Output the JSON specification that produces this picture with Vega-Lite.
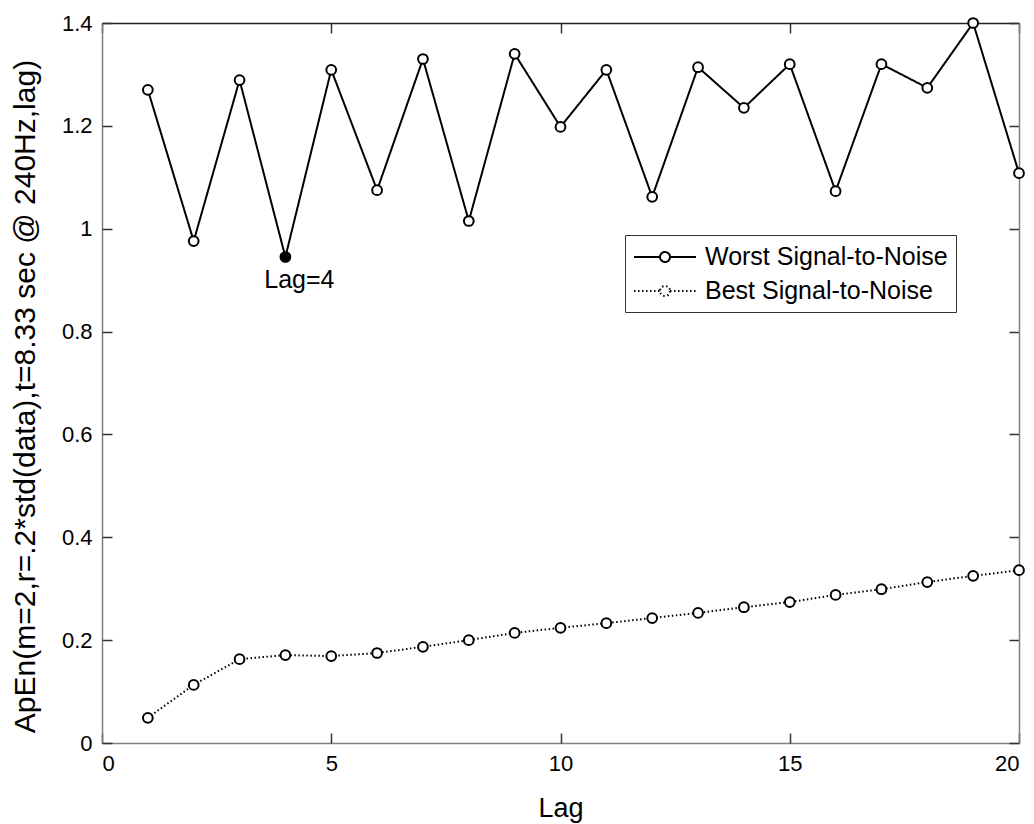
{
  "$schema": "https://vega.github.io/schema/vega-lite/v6.json",
  "width": 917,
  "height": 720,
  "autosize": "none",
  "padding": {"left": 102, "top": 23, "right": 15, "bottom": 81},
  "background": "white",
  "config": {
    "view": {"stroke": null},
    "font": "Liberation Sans",
    "axis": {
      "grid": false,
      "domainColor": "#7f7f7f",
      "domainWidth": 1.5,
      "labelFont": "Liberation Sans",
      "labelFontSize": 22,
      "labelColor": "black",
      "titleFont": "Liberation Sans",
      "titleFontWeight": "normal",
      "titleColor": "black"
    }
  },
  "datasets": {
    "series": [
      {"lag": 1, "value": 1.270, "series": "Worst Signal-to-Noise"},
      {"lag": 2, "value": 0.976, "series": "Worst Signal-to-Noise"},
      {"lag": 3, "value": 1.289, "series": "Worst Signal-to-Noise"},
      {"lag": 4, "value": 0.945, "series": "Worst Signal-to-Noise"},
      {"lag": 5, "value": 1.309, "series": "Worst Signal-to-Noise"},
      {"lag": 6, "value": 1.075, "series": "Worst Signal-to-Noise"},
      {"lag": 7, "value": 1.330, "series": "Worst Signal-to-Noise"},
      {"lag": 8, "value": 1.015, "series": "Worst Signal-to-Noise"},
      {"lag": 9, "value": 1.340, "series": "Worst Signal-to-Noise"},
      {"lag": 10, "value": 1.198, "series": "Worst Signal-to-Noise"},
      {"lag": 11, "value": 1.309, "series": "Worst Signal-to-Noise"},
      {"lag": 12, "value": 1.062, "series": "Worst Signal-to-Noise"},
      {"lag": 13, "value": 1.314, "series": "Worst Signal-to-Noise"},
      {"lag": 14, "value": 1.235, "series": "Worst Signal-to-Noise"},
      {"lag": 15, "value": 1.320, "series": "Worst Signal-to-Noise"},
      {"lag": 16, "value": 1.073, "series": "Worst Signal-to-Noise"},
      {"lag": 17, "value": 1.320, "series": "Worst Signal-to-Noise"},
      {"lag": 18, "value": 1.274, "series": "Worst Signal-to-Noise"},
      {"lag": 19, "value": 1.400, "series": "Worst Signal-to-Noise"},
      {"lag": 20, "value": 1.108, "series": "Worst Signal-to-Noise"},
      {"lag": 1, "value": 0.049, "series": "Best Signal-to-Noise"},
      {"lag": 2, "value": 0.113, "series": "Best Signal-to-Noise"},
      {"lag": 3, "value": 0.163, "series": "Best Signal-to-Noise"},
      {"lag": 4, "value": 0.171, "series": "Best Signal-to-Noise"},
      {"lag": 5, "value": 0.169, "series": "Best Signal-to-Noise"},
      {"lag": 6, "value": 0.175, "series": "Best Signal-to-Noise"},
      {"lag": 7, "value": 0.187, "series": "Best Signal-to-Noise"},
      {"lag": 8, "value": 0.200, "series": "Best Signal-to-Noise"},
      {"lag": 9, "value": 0.214, "series": "Best Signal-to-Noise"},
      {"lag": 10, "value": 0.224, "series": "Best Signal-to-Noise"},
      {"lag": 11, "value": 0.233, "series": "Best Signal-to-Noise"},
      {"lag": 12, "value": 0.243, "series": "Best Signal-to-Noise"},
      {"lag": 13, "value": 0.253, "series": "Best Signal-to-Noise"},
      {"lag": 14, "value": 0.264, "series": "Best Signal-to-Noise"},
      {"lag": 15, "value": 0.274, "series": "Best Signal-to-Noise"},
      {"lag": 16, "value": 0.288, "series": "Best Signal-to-Noise"},
      {"lag": 17, "value": 0.299, "series": "Best Signal-to-Noise"},
      {"lag": 18, "value": 0.313, "series": "Best Signal-to-Noise"},
      {"lag": 19, "value": 0.325, "series": "Best Signal-to-Noise"},
      {"lag": 20, "value": 0.336, "series": "Best Signal-to-Noise"}
    ],
    "highlight": [
      {"lag": 4, "value": 0.945, "label": "Lag=4"}
    ]
  },
  "resolve": {"axis": {"x": "independent", "y": "independent"}},
  "layer": [
    {
      "data": {"name": "series"},
      "mark": {"type": "line", "color": "black", "strokeWidth": 2},
      "encoding": {
        "x": {"field": "lag", "type": "quantitative",
              "scale": {"domain": [0, 20], "nice": false, "zero": false},
              "axis": {"orient": "bottom", "values": [0, 5, 10, 15, 20], "ticks": false, "tickSize": 0, "title": "Lag", "titleFontSize": 27, "labelPadding": 10, "titlePadding": 21}},
        "y": {"field": "value", "type": "quantitative",
              "scale": {"domain": [0, 1.4], "nice": false, "zero": false},
              "axis": {"orient": "left", "values": [0, 0.2, 0.4, 0.6, 0.8, 1, 1.2, 1.4], "format": "~g", "ticks": false, "tickSize": 0, "title": "ApEn(m=2,r=.2*std(data),t=8.33 sec @ 240Hz,lag)", "titleFontSize": 30, "labelPadding": 10, "titleX": -77, "titleY": 373, "titleBaseline": "middle", "titleAlign": "center", "titleAngle": -90}},
        "strokeDash": {"field": "series", "type": "nominal",
              "scale": {"domain": ["Worst Signal-to-Noise", "Best Signal-to-Noise"], "range": [[1, 0], [1.5, 2.5]]},
              "legend": {
                "title": null,
                "orient": "none",
                "legendX": 523,
                "legendY": 212,
                "padding": 8,
                "strokeColor": "#333333",
                "fillColor": "white",
                "symbolType": "M-2.385,0H-0.385M0.385,0H2.385M0.385,0A0.385,0.385,0,1,1,-0.385,0A0.385,0.385,0,1,1,0.385,0",
                "symbolSize": 676,
                "symbolOffset": 18,
                "symbolStrokeWidth": 2,
                "symbolStrokeColor": "black",
                "symbolFillColor": "white",
                "labelFont": "Liberation Sans",
                "labelFontSize": 25,
                "labelColor": "black",
                "labelOffset": 26,
                "labelLimit": 600,
                "rowPadding": 7
              }}
      }
    },
    {
      "data": {"name": "series"},
      "mark": {"type": "point", "shape": "circle", "filled": false, "fill": "white", "fillOpacity": 1, "stroke": "black", "strokeWidth": 2, "size": 95, "opacity": 1},
      "encoding": {
        "x": {"field": "lag", "type": "quantitative",
              "axis": {"orient": "top", "offset": -720, "values": [0, 5, 10, 15, 20], "labels": false, "domain": false, "ticks": true, "tickSize": 10, "tickColor": "#333333", "tickWidth": 1.5, "title": null}},
        "y": {"field": "value", "type": "quantitative",
              "axis": {"orient": "right", "offset": -917, "values": [0, 0.2, 0.4, 0.6, 0.8, 1, 1.2, 1.4], "labels": false, "domain": false, "ticks": true, "tickSize": 10, "tickColor": "#333333", "tickWidth": 1.5, "title": null}}
      }
    },
    {
      "data": {"name": "highlight"},
      "mark": {"type": "point", "shape": "circle", "filled": true, "color": "black", "size": 110, "opacity": 1},
      "encoding": {
        "x": {"field": "lag", "type": "quantitative",
              "axis": {"orient": "bottom", "offset": -720, "values": [0, 5, 10, 15, 20], "labels": false, "domain": true, "domainColor": "#222222", "ticks": true, "tickSize": 10, "tickColor": "#333333", "tickWidth": 1.5, "title": null}},
        "y": {"field": "value", "type": "quantitative",
              "axis": {"orient": "left", "offset": -917, "values": [0, 0.2, 0.4, 0.6, 0.8, 1, 1.2, 1.4], "labels": false, "domain": true, "ticks": true, "tickSize": 10, "tickColor": "#333333", "tickWidth": 1.5, "title": null}}
      }
    },
    {
      "data": {"name": "highlight"},
      "mark": {"type": "text", "font": "Liberation Sans", "fontSize": 25, "color": "black", "baseline": "top", "align": "center", "dy": 11, "dx": 14},
      "encoding": {
        "x": {"field": "lag", "type": "quantitative", "axis": null},
        "y": {"field": "value", "type": "quantitative", "axis": null},
        "text": {"field": "label"}
      }
    }
  ]
}
